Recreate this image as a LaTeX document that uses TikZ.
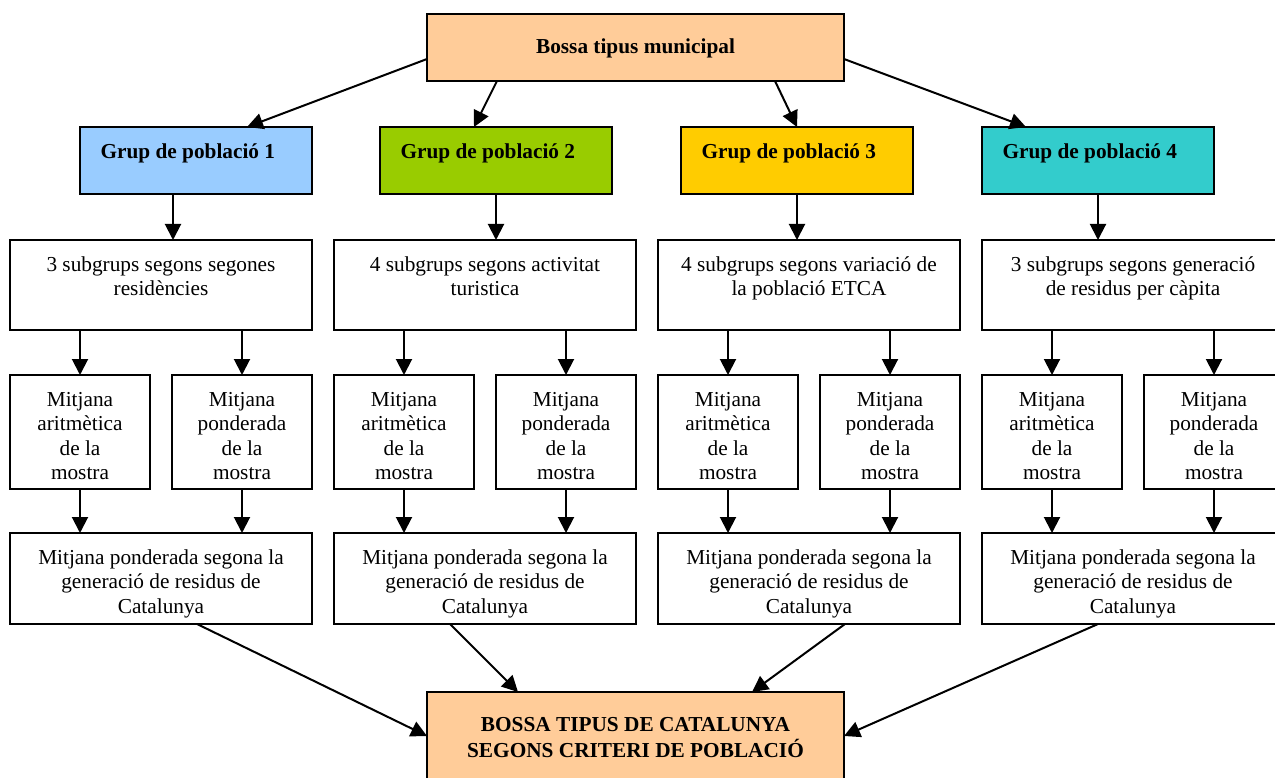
\documentclass[tikz,border=0pt]{standalone}
\usepackage{fontspec}
\setmainfont{Liberation Serif}
\usetikzlibrary{arrows.meta}
\definecolor{peach}{HTML}{FFCC99}
\definecolor{gblue}{HTML}{99CCFF}
\definecolor{ggreen}{HTML}{99CC00}
\definecolor{gyellow}{HTML}{FFCC00}
\definecolor{gteal}{HTML}{33CCCC}
\begin{document}
\begin{tikzpicture}[x=1pt,y=-1pt,
  box/.style={draw=black,line width=2pt,rectangle,inner sep=0pt,outer sep=0pt},
  bigbox/.style={box,minimum width=417pt},
  grpbox/.style={box,minimum width=232pt,minimum height=67pt},
  wide/.style={box,fill=white,minimum width=302pt},
  mean/.style={box,fill=white,minimum width=140pt,minimum height=114pt},
  txt/.style={inner sep=0pt,outer sep=0pt,align=center,anchor=north,
    font=\fontsize{21.3}{24.5}\selectfont},
  btxt/.style={txt,font=\fontsize{21.3}{24.5}\selectfont\bfseries},
  arr/.style={line width=2pt,-{Triangle[length=16pt,width=16pt]}}
]
\useasboundingbox (0,0) rectangle (1275,778);
\clip (0,0) rectangle (1275,778);

% top box
\node[bigbox,fill=peach,minimum height=67pt] (T) at (635.5,47.5) {};
\node[btxt] (Tt) at (635.5,36.35) {\strut Bossa tipus municipal};

% group boxes
\node[grpbox,fill=gblue]   (G1) at (196,160.5) {};
\node[grpbox,fill=ggreen]  (G2) at (496,160.5) {};
\node[grpbox,fill=gyellow] (G3) at (797,160.5) {};
\node[grpbox,fill=gteal]   (G4) at (1098,160.5) {};
\node[btxt,anchor=north west] (G1t) at (100.5,141.35) {\strut Grup de població 1};
\node[btxt,anchor=north west] (G2t) at (400.5,141.35) {\strut Grup de població 2};
\node[btxt,anchor=north west] (G3t) at (701.5,141.35) {\strut Grup de població 3};
\node[btxt,anchor=north west] (G4t) at (1002.5,141.35) {\strut Grup de població 4};

% subgroup boxes
\node[wide,minimum height=90pt] (S1) at (161,285) {};
\node[wide,minimum height=90pt] (S2) at (485,285) {};
\node[wide,minimum height=90pt] (S3) at (809,285) {};
\node[wide,minimum height=90pt] (S4) at (1133,285) {};
\node[txt] (S1t) at (161,254.1) {\strut 3 subgrups segons segones\\residències};
\node[txt] (S2t) at (485,254.1) {\strut 4 subgrups segons activitat\\turistica};
\node[txt] (S3t) at (809,254.1) {\strut 4 subgrups segons variació de\\la població ETCA};
\node[txt] (S4t) at (1133,254.1) {\strut 3 subgrups segons generació\\de residus per càpita};

% mean boxes
\foreach \n/\x/\t in {M1a/80/aritmètica, M1b/242/ponderada,
                      M2a/404/aritmètica, M2b/566/ponderada,
                      M3a/728/aritmètica, M3b/890/ponderada,
                      M4a/1052/aritmètica, M4b/1214/ponderada}{
  \node[mean] (\n) at (\x,432) {};
  \node[txt] (\n t) at (\x,389.1) {\strut Mitjana\\\t\\de la\\mostra};
}

% weighted boxes
\foreach \n/\x in {W1/161, W2/485, W3/809, W4/1133}{
  \node[wide,minimum height=91pt] (\n) at (\x,578.5) {};
  \node[txt] (\n t) at (\x,547.1) {\strut Mitjana ponderada segona la\\generació de residus de\\Catalunya};
}

% bottom box
\node[bigbox,fill=peach,minimum height=88pt] (B) at (635.5,736) {};
\node[btxt] (Bt) at (635.5,714.1) {\strut BOSSA TIPUS DE CATALUNYA\\SEGONS CRITERI DE POBLACIÓ};

% connectors: top to groups
\draw[arr] ([yshift=-11.5pt]T.west) -- ([xshift=51pt]G1.north);
\draw[arr] ([xshift=-138.5pt]T.south) -- ([xshift=-22pt]G2.north);
\draw[arr] ([xshift=139.5pt]T.south) -- (G3.north);
\draw[arr] ([yshift=-11.5pt]T.east) -- ([xshift=-72pt]G4.north);

% groups to subgroups
\draw[arr] ([xshift=-23pt]G1.south) coordinate (g1s) -- (g1s |- S1.north);
\draw[arr] (G2.south) -- (G2.south |- S2.north);
\draw[arr] (G3.south) -- (G3.south |- S3.north);
\draw[arr] (G4.south) -- (G4.south |- S4.north);

% subgroups to means, means to weighted
\foreach \s/\a/\b/\w in {S1/M1a/M1b/W1, S2/M2a/M2b/W2, S3/M3a/M3b/W3, S4/M4a/M4b/W4}{
  \draw[arr] (\a.north |- \s.south) -- (\a.north);
  \draw[arr] (\b.north |- \s.south) -- (\b.north);
  \draw[arr] (\a.south) -- (\a.south |- \w.north);
  \draw[arr] (\b.south) -- (\b.south |- \w.north);
}

% weighted to bottom
\draw[arr] ([xshift=36pt]W1.south) -- (B.west);
\draw[arr] ([xshift=-35pt]W2.south) -- ([xshift=-117.5pt]B.north);
\draw[arr] ([xshift=36pt]W3.south) -- ([xshift=116.5pt]B.north);
\draw[arr] ([xshift=-35pt]W4.south) -- (B.east);
\end{tikzpicture}
\end{document}
